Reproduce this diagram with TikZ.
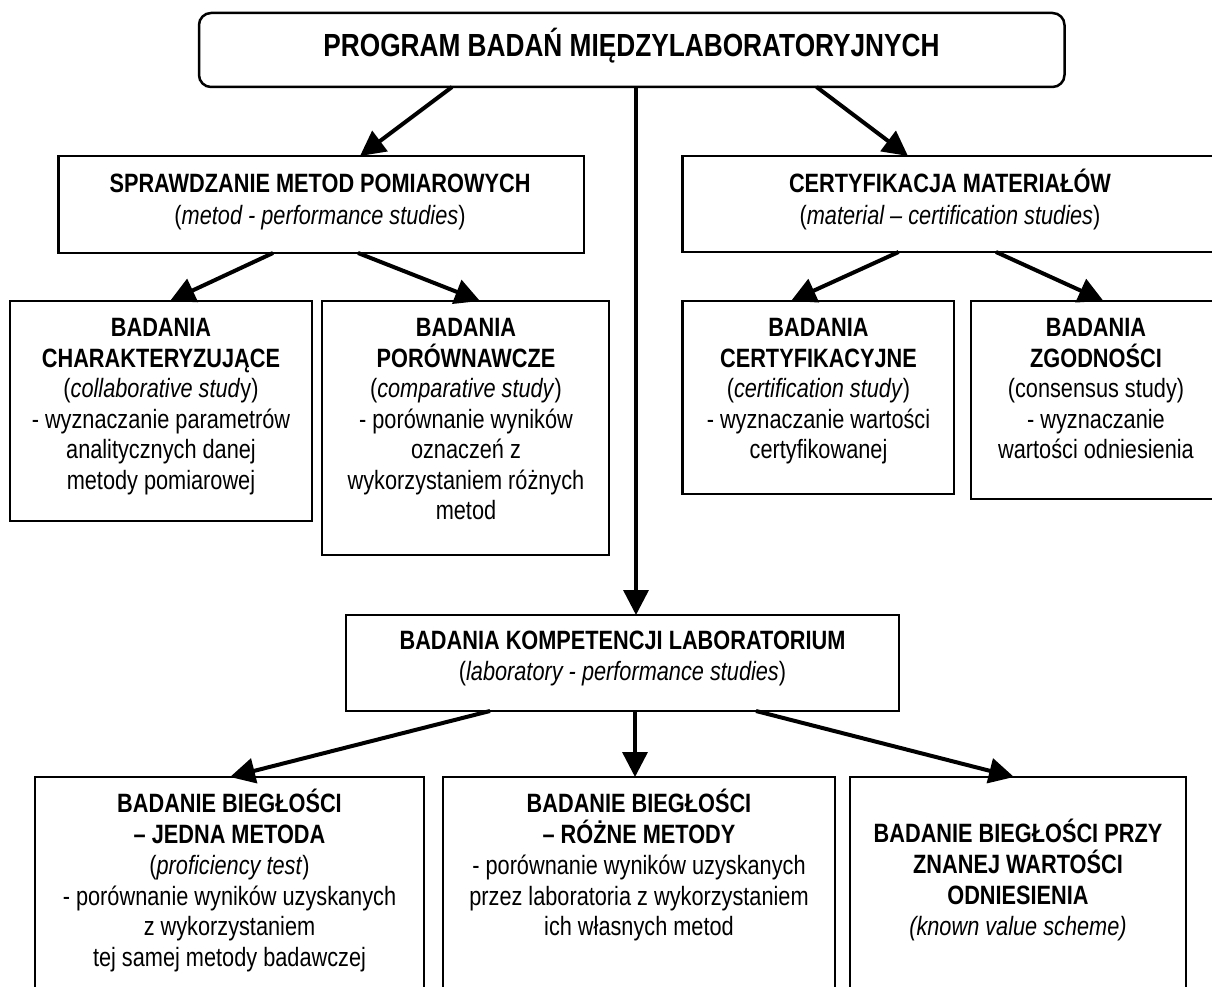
\documentclass[tikz,border=0pt]{standalone}
\usepackage{fontspec}
\setmainfont{Liberation Sans}[FakeStretch=0.82]
\usetikzlibrary{arrows.meta}
% fixed-height strut for the first line of every box text
\newcommand\firstln{\rule{0pt}{25pt}}
% rectangle box: name, left, top, width, height
\newcommand\mkbox[5]{\node[box, minimum width=#4pt, minimum height=#5pt] (#1) at (#2,#3) {};}
\begin{document}
\begin{tikzpicture}[x=1pt,y=-1pt,
  box/.style={draw, line width=2.5pt, inner sep=0pt, outer sep=0pt, anchor=north west},
  txt/.style={anchor=north, align=center, inner sep=0pt, font=\fontsize{26.5}{30.5}\selectfont},
  txthead/.style={txt, font=\fontsize{26.5}{32}\selectfont},
  arr/.style={line width=4pt, -{Triangle[length=25pt,width=25pt]}}]
\useasboundingbox (0,0) rectangle (1212,987);
\clip (0,0) rectangle (1212,987);

% top level
\node[draw, line width=2.5pt, rounded corners=12pt, inner sep=0pt, outer sep=0pt,
      minimum width=865.5pt, minimum height=74pt] (prog) at (631.75,50) {};
\node[anchor=base, inner sep=0pt, font=\fontsize{32}{36}\selectfont\bfseries] (progtxt)
  at (631.5,56.5) {PROGRAM BADAŃ MIĘDZYLABORATORYJNYCH};

% second level
\mkbox{sprawdz}{58.5}{156}{525.5}{97}
\mkbox{cert}{682.7}{156}{534.3}{96}
\node[txthead] (sprawdztxt) at (320,167)
  {\firstln\textbf{SPRAWDZANIE METOD POMIAROWYCH}\\(\textit{metod - performance studies})};
\node[txthead] (certtxt) at (950,167)
  {\firstln\textbf{CERTYFIKACJA MATERIAŁÓW}\\(\textit{material – certification studies})};

% third level
\mkbox{charakt}{10}{301}{302}{220}
\mkbox{porow}{322}{301}{287}{254}
\mkbox{certyf}{682.7}{301}{271.3}{193}
\mkbox{zgod}{971}{301}{250}{198}
\node[txt] (charakttxt) at (161,311.5)
  {\firstln\textbf{BADANIA}\\\textbf{CHARAKTERYZUJĄCE}\\(\textit{collaborative stud}y)\\- wyznaczanie parametrów\\analitycznych danej\\metody pomiarowej};
\node[txt] (porowtxt) at (466,311.5)
  {\firstln\textbf{BADANIA}\\\textbf{PORÓWNAWCZE}\\(\textit{comparative study})\\- porównanie wyników\\oznaczeń z\\wykorzystaniem różnych\\metod};
\node[txt] (certyftxt) at (818.5,311.5)
  {\firstln\textbf{BADANIA}\\\textbf{CERTYFIKACYJNE}\\(\textit{certification study})\\- wyznaczanie wartości\\certyfikowanej};
\node[txt] (zgodtxt) at (1096,311.5)
  {\firstln\textbf{BADANIA}\\\textbf{ZGODNOŚCI}\\(consensus study)\\- wyznaczanie\\wartości odniesienia};

% laboratory competence
\mkbox{komp}{346}{615}{553}{96}
\node[txt, font=\fontsize{26.5}{31}\selectfont] (komptxt) at (622.5,624.5)
  {\firstln\textbf{BADANIA KOMPETENCJI LABORATORIUM}\\(\textit{laboratory - performance studies})};

% bottom level
\mkbox{bjedna}{35}{777}{389}{240}
\mkbox{brozne}{443}{777}{392}{240}
\mkbox{bznana}{850}{777}{336}{240}
\node[txt, font=\fontsize{26.5}{30.8}\selectfont] (bjednatxt) at (229.5,787.5)
  {\firstln\textbf{BADANIE BIEGŁOŚCI}\\\textbf{– JEDNA METODA}\\(\textit{proficiency test})\\- porównanie wyników uzyskanych\\z wykorzystaniem\\tej samej metody badawczej};
\node[txt, font=\fontsize{26.5}{30.8}\selectfont] (broznetxt) at (639,787.5)
  {\firstln\textbf{BADANIE BIEGŁOŚCI}\\\textbf{– RÓŻNE METODY}\\- porównanie wyników uzyskanych\\przez laboratoria z wykorzystaniem\\ich własnych metod};
\node[txt, font=\fontsize{26.5}{31}\selectfont] (bznanatxt) at (1018,817.5)
  {\firstln\textbf{BADANIE BIEGŁOŚCI PRZY}\\\textbf{ZNANEJ WARTOŚCI}\\\textbf{ODNIESIENIA}\\\textit{(known value scheme)}};

% connectors
\draw[arr] ([xshift=-179.75pt]prog.south) -- ([xshift=38.75pt]sprawdz.north);
\draw[arr] ([xshift=184.85pt]prog.south) -- ([xshift=-41.85pt]cert.north);
\draw[arr, line width=3.5pt] ([xshift=4.25pt]prog.south) -- ([xshift=13.5pt]komp.north);
\draw[arr] ([xshift=-48.25pt]sprawdz.south) -- ([xshift=9pt]charakt.north);
\draw[arr] ([xshift=36.75pt]sprawdz.south) -- ([xshift=14.5pt]porow.north);
\draw[arr] ([xshift=-51.25pt]cert.south) -- ([xshift=-27.35pt]certyf.north);
\draw[arr] ([xshift=46.15pt]cert.south) -- ([xshift=7.5pt]zgod.north);
\draw[arr] ([xshift=-132.5pt]komp.south) -- ([xshift=0.5pt]bjedna.north);
\draw[arr, line width=3.5pt] ([xshift=12.5pt]komp.south) -- ([xshift=-4pt]brozne.north);
\draw[arr] ([xshift=133.5pt]komp.south) -- ([xshift=-4pt]bznana.north);
\end{tikzpicture}
\end{document}
